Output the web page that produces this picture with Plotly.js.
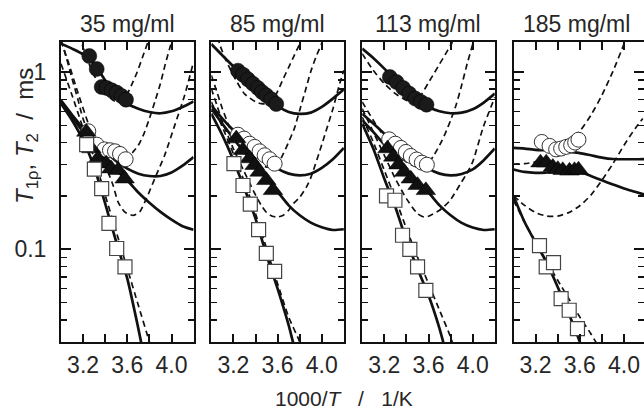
<!DOCTYPE html>
<html><head><meta charset="utf-8">
<script src="https://cdn.plot.ly/plotly-3.0.1.min.js"></script>
<style>html,body{margin:0;padding:0;background:#fff;}</style>
</head><body><div id="chart" style="width:644px;height:410px;"></div>
<script>
const panelTitles = ['35 mg/ml','85 mg/ml','113 mg/ml','185 mg/ml'];
const xTickVals = [3.2,3.6,4.0];
const xTickText = ['3.2','3.6','4.0'];
const xMinorVals = [3.4,3.8];
const yTickVals = [0.1,1];
const yTickText = ['0.1','1'];
const yMinorVals = [0.04,0.05,0.06,0.07,0.08,0.09,0.2,0.3,0.4,0.5,0.6,0.7,0.8,0.9];
const fitX = [3.0,3.1,3.2,3.3,3.4,3.5,3.6,3.7,3.8,3.9,4.0,4.1,4.2];

// ---- 35 mg/ml ----
const p1_fc_x = [3.256,3.323,3.368,3.413,3.459,3.504,3.549,3.588];
const p1_fc_y = [1.23,1.04,0.823,0.813,0.788,0.765,0.732,0.698];
const p1_oc_x = [3.247,3.323,3.392,3.443,3.489,3.534,3.585];
const p1_oc_y = [0.463,0.389,0.366,0.362,0.357,0.345,0.322];
const p1_tri_x = [3.229,3.275,3.335,3.410,3.455,3.516,3.576];
const p1_tri_y = [0.459,0.370,0.325,0.304,0.285,0.279,0.250];
const p1_sq_x = [3.232,3.302,3.368,3.434,3.504,3.579];
const p1_sq_y = [0.389,0.283,0.220,0.140,0.101,0.0795];
const p1_fitA_y = [1.445,1.354,1.258,1.114,0.898,0.755,0.663,0.621,0.595,0.585,0.600,0.635,0.683];
const p1_fitB_y = [0.692,0.574,0.483,0.412,0.357,0.314,0.285,0.267,0.259,0.259,0.271,0.296,0.331];
const p1_fitC_y = [0.671,0.557,0.459,0.383,0.325,0.279,0.245,0.209,0.183,0.1625,0.147,0.135,0.129];
const p1_fitT2_x = [3.0,3.1,3.2,3.3,3.4,3.5,3.6,3.7,3.74];
const p1_fitT2_y = [0.663,0.534,0.412,0.291,0.181,0.110,0.0683,0.0357,0.0269];
const p1_dashA_x = [3.163,3.184,3.214,3.299,3.401,3.452,3.500,3.549,3.600,3.637,3.685,3.736,3.787,3.808];
const p1_dashA_y = [1.61,1.476,1.297,0.958,0.771,0.708,0.680,0.700,0.754,0.841,0.983,1.204,1.476,1.61];
const p1_dashB_x = [3.0,3.051,3.10,3.151,3.199,3.299,3.401,3.50,3.549,3.60,3.652,3.70,3.751,3.80,3.849,3.899,3.941,4.0,4.015];
const p1_dashB_y = [1.508,1.189,0.917,0.708,0.546,0.386,0.328,0.30,0.308,0.325,0.354,0.386,0.449,0.546,0.678,0.859,1.09,1.476,1.61];
const p1_dashC_x = [3.0,3.066,3.151,3.247,3.338,3.425,3.471,3.516,3.576,3.652,3.712,3.772,3.848,3.938,4.029,4.119,4.195];
const p1_dashC_y = [1.508,1.139,0.771,0.512,0.362,0.273,0.230,0.185,0.1625,0.1555,0.1625,0.193,0.250,0.339,0.500,0.739,1.114];
const p1_dashT2_x = [3.0,3.1,3.2,3.3,3.4,3.5,3.6,3.7,3.8,3.82];
const p1_dashT2_y = [1.114,0.739,0.483,0.328,0.202,0.1253,0.0779,0.0483,0.030,0.0269];

// ---- 85 mg/ml ----
const p2_fc_x = [3.241,3.287,3.332,3.377,3.422,3.459,3.498,3.543,3.588];
const p2_fc_y = [1.017,0.966,0.909,0.859,0.812,0.771,0.739,0.701,0.660];
const p2_oc_x = [3.241,3.296,3.347,3.392,3.437,3.483,3.528,3.573];
const p2_oc_y = [0.443,0.421,0.394,0.378,0.357,0.339,0.322,0.304];
const p2_tri_x = [3.226,3.287,3.347,3.392,3.437,3.498,3.558];
const p2_tri_y = [0.421,0.362,0.325,0.298,0.273,0.245,0.215];
const p2_sq_x = [3.205,3.287,3.353,3.428,3.498,3.573];
const p2_sq_y = [0.304,0.229,0.180,0.129,0.0949,0.0751];
const p2_fitA_y = [1.438,1.241,1.076,0.949,0.834,0.732,0.643,0.595,0.580,0.590,0.635,0.708,0.798];
const p2_fitB_y = [0.649,0.546,0.469,0.412,0.357,0.318,0.285,0.267,0.261,0.267,0.288,0.322,0.373];
const p2_fitC_y = [0.621,0.511,0.421,0.354,0.298,0.250,0.211,0.177,0.1555,0.1414,0.1331,0.1285,0.1297];
const p2_fitT2_x = [3.0,3.1,3.2,3.3,3.4,3.5,3.6,3.7,3.739,3.76];
const p2_fitT2_y = [0.582,0.440,0.318,0.220,0.149,0.0925,0.060,0.0373,0.030,0.0269];
const p2_dashA_x = [3.06,3.075,3.121,3.199,3.299,3.401,3.452,3.501,3.552,3.60,3.652,3.70,3.751,3.799,3.82];
const p2_dashA_y = [1.575,1.438,1.21,0.958,0.755,0.678,0.663,0.663,0.692,0.778,0.917,1.062,1.241,1.438,1.575];
const p2_dashB_x = [3.0,3.051,3.10,3.151,3.199,3.299,3.401,3.501,3.60,3.652,3.70,3.751,3.799,3.848,3.899,3.947,3.997,4.015];
const p2_dashB_y = [0.958,0.771,0.621,0.512,0.43,0.346,0.308,0.291,0.304,0.346,0.403,0.479,0.605,0.771,1.0,1.215,1.438,1.575];
const p2_dashC_x = [3.0,3.051,3.10,3.199,3.299,3.401,3.452,3.501,3.552,3.60,3.652,3.70,3.751,3.799,3.86,3.899,4.011,4.101,4.161,4.2];
const p2_dashC_y = [0.805,0.649,0.523,0.370,0.273,0.202,0.177,0.161,0.1535,0.152,0.1555,0.166,0.1834,0.196,0.224,0.252,0.41,0.621,0.856,1.022];
const p2_dashT2_x = [3.0,3.1,3.2,3.3,3.4,3.5,3.6,3.7,3.8,3.82];
const p2_dashT2_y = [0.678,0.49,0.346,0.240,0.159,0.101,0.064,0.0415,0.030,0.0269];

// ---- 113 mg/ml ----
const p3_fc_x = [3.250,3.311,3.371,3.425,3.480,3.531,3.582];
const p3_fc_y = [0.937,0.878,0.812,0.755,0.708,0.678,0.654];
const p3_oc_x = [3.244,3.299,3.350,3.395,3.440,3.492,3.540,3.585];
const p3_oc_y = [0.417,0.394,0.373,0.354,0.336,0.321,0.308,0.300];
const p3_tri_x = [3.229,3.281,3.329,3.380,3.440,3.501,3.576];
const p3_tri_y = [0.370,0.332,0.300,0.273,0.250,0.230,0.215];
const p3_sq_x = [3.220,3.296,3.365,3.431,3.501,3.576];
const p3_sq_y = [0.200,0.189,0.120,0.100,0.0795,0.0587];
const p3_fitA_y = [1.354,1.199,1.044,0.897,0.778,0.692,0.635,0.600,0.585,0.590,0.616,0.672,0.755];
const p3_fitB_y = [0.582,0.512,0.449,0.394,0.354,0.318,0.285,0.267,0.261,0.266,0.282,0.318,0.370];
const p3_fitC_y = [0.535,0.459,0.389,0.332,0.279,0.240,0.209,0.177,0.1555,0.1408,0.1326,0.1285,0.1297];
const p3_fitT2_x = [3.0,3.1,3.2,3.3,3.4,3.5,3.6,3.7,3.733,3.755];
const p3_fitT2_y = [0.511,0.370,0.250,0.173,0.1124,0.0778,0.055,0.0357,0.030,0.0269];
const p3_dashA_x = [3.0,3.1,3.2,3.3,3.4,3.452,3.5,3.54,3.6,3.649,3.7,3.751,3.8,3.809,3.82];
const p3_dashA_y = [1.269,1.022,0.859,0.755,0.692,0.678,0.689,0.751,0.871,0.979,1.109,1.252,1.414,1.438,1.575];
const p3_dashB_x = [3.0,3.1,3.2,3.3,3.4,3.5,3.6,3.649,3.7,3.751,3.8,3.849,3.9,3.95,4.0,4.015];
const p3_dashB_y = [0.678,0.534,0.43,0.354,0.311,0.291,0.308,0.339,0.386,0.449,0.534,0.649,0.841,1.114,1.438,1.61];
const p3_dashC_x = [3.0,3.1,3.2,3.3,3.4,3.5,3.56,3.6,3.7,3.793,3.9,3.944,4.0,4.095,4.2];
const p3_dashC_y = [0.621,0.459,0.339,0.250,0.193,0.159,0.152,0.1535,0.166,0.188,0.240,0.266,0.311,0.488,0.72];
const p3_dashT2_x = [3.0,3.1,3.2,3.3,3.4,3.5,3.6,3.7,3.8,3.818,3.836];
const p3_dashT2_y = [0.557,0.403,0.279,0.193,0.131,0.0905,0.064,0.0453,0.032,0.0295,0.0269];

// ---- 185 mg/ml ----
const p4_oc_x = [3.256,3.326,3.386,3.431,3.477,3.522,3.558,3.588];
const p4_oc_y = [0.403,0.383,0.366,0.370,0.378,0.386,0.400,0.415];
const p4_tri_x = [3.244,3.296,3.356,3.401,3.446,3.507,3.552,3.588];
const p4_tri_y = [0.308,0.308,0.291,0.283,0.279,0.277,0.279,0.281];
const p4_sq_x = [3.235,3.296,3.362,3.431,3.504,3.579];
const p4_sq_y = [0.105,0.0795,0.0841,0.0527,0.0453,0.0357];
const p4_fitB_y = [0.373,0.370,0.364,0.362,0.359,0.354,0.349,0.339,0.329,0.323,0.322,0.322,0.323];
const p4_fitC_y = [0.282,0.273,0.270,0.271,0.273,0.275,0.273,0.259,0.245,0.232,0.220,0.211,0.202];
const p4_fitT2_x = [3.0,3.1,3.2,3.3,3.4,3.5,3.6,3.618];
const p4_fitT2_y = [0.20,0.1426,0.109,0.0841,0.0613,0.0434,0.030,0.0274];
const p4_dashB_x = [3.0,3.1,3.2,3.3,3.4,3.5,3.6,3.7,3.8,3.9,4.0,4.011];
const p4_dashB_y = [0.302,0.304,0.311,0.325,0.351,0.394,0.463,0.570,0.739,1.009,1.444,1.54];
const p4_dashC_x = [3.0,3.1,3.2,3.3,3.4,3.5,3.6,3.7,3.8,3.9,4.0,4.1,4.17];
const p4_dashC_y = [0.20,0.177,0.161,0.154,0.154,0.161,0.176,0.202,0.245,0.304,0.386,0.479,0.546];
const p4_dashT2_x = [3.0,3.1,3.2,3.3,3.4,3.5,3.6,3.7,3.748,3.769];
const p4_dashT2_y = [0.189,0.1426,0.110,0.0855,0.0669,0.0527,0.0415,0.0334,0.0298,0.0281];

const panels = [
  {fc:[p1_fc_x,p1_fc_y], oc:[p1_oc_x,p1_oc_y], tri:[p1_tri_x,p1_tri_y], sq:[p1_sq_x,p1_sq_y],
   solid:[[fitX,p1_fitA_y],[fitX,p1_fitB_y],[fitX,p1_fitC_y],[p1_fitT2_x,p1_fitT2_y]],
   dash:[[p1_dashA_x,p1_dashA_y],[p1_dashB_x,p1_dashB_y],[p1_dashC_x,p1_dashC_y],[p1_dashT2_x,p1_dashT2_y]]},
  {fc:[p2_fc_x,p2_fc_y], oc:[p2_oc_x,p2_oc_y], tri:[p2_tri_x,p2_tri_y], sq:[p2_sq_x,p2_sq_y],
   solid:[[fitX,p2_fitA_y],[fitX,p2_fitB_y],[fitX,p2_fitC_y],[p2_fitT2_x,p2_fitT2_y]],
   dash:[[p2_dashA_x,p2_dashA_y],[p2_dashB_x,p2_dashB_y],[p2_dashC_x,p2_dashC_y],[p2_dashT2_x,p2_dashT2_y]]},
  {fc:[p3_fc_x,p3_fc_y], oc:[p3_oc_x,p3_oc_y], tri:[p3_tri_x,p3_tri_y], sq:[p3_sq_x,p3_sq_y],
   solid:[[fitX,p3_fitA_y],[fitX,p3_fitB_y],[fitX,p3_fitC_y],[p3_fitT2_x,p3_fitT2_y]],
   dash:[[p3_dashA_x,p3_dashA_y],[p3_dashB_x,p3_dashB_y],[p3_dashC_x,p3_dashC_y],[p3_dashT2_x,p3_dashT2_y]]},
  {fc:null, oc:[p4_oc_x,p4_oc_y], tri:[p4_tri_x,p4_tri_y], sq:[p4_sq_x,p4_sq_y],
   solid:[[fitX,p4_fitB_y],[fitX,p4_fitC_y],[p4_fitT2_x,p4_fitT2_y]],
   dash:[[p4_dashB_x,p4_dashB_y],[p4_dashC_x,p4_dashC_y],[p4_dashT2_x,p4_dashT2_y]]}
];

const W = 644, H = 410, ML = 61, MR = 0, MT = 42, MB = 68;
const plotW = W - ML - MR, plotH = H - MT - MB;
const pxPerUnit = 110.5;
const panelLeftPx = [0, 150.3, 301.2, 452.5];
const FONT = 'Liberation Sans, Arial, Helvetica, sans-serif';
const TXT = '#262626';

const traces = [];
const layout = {
  width: W, height: H, margin: {l: ML, r: MR, t: MT, b: MB},
  paper_bgcolor: '#fff', plot_bgcolor: '#fff', showlegend: false,
  font: {family: FONT, color: TXT}, annotations: []
};

panels.forEach((p, i) => {
  const n = i + 1, xa = 'x' + (n === 1 ? '' : n), ya = 'y' + (n === 1 ? '' : n);
  const left = panelLeftPx[i] / plotW;
  const right = Math.min(1, (panelLeftPx[i] + 1.2 * pxPerUnit) / plotW);
  const xmax = 3.0 + (right * plotW - panelLeftPx[i]) / pxPerUnit;
  layout['xaxis' + (n === 1 ? '' : n)] = {
    domain: [left, right], range: [3.0, xmax], anchor: ya,
    tickmode: 'array', tickvals: xTickVals, ticktext: xTickText,
    ticks: 'inside', ticklen: 8, tickwidth: 2, tickcolor: '#111',
    minor: {tickmode: 'array', tickvals: xMinorVals, ticks: 'inside', ticklen: 8, tickwidth: 2, tickcolor: '#111', showgrid: false},
    showline: true, linewidth: 2, linecolor: '#111', mirror: 'allticks',
    showgrid: false, zeroline: false, ticklabelstandoff: 1,
    tickfont: {family: FONT, size: 23, color: TXT}
  };
  layout['yaxis' + (n === 1 ? '' : n)] = {
    domain: [0, 1], type: 'log', range: [Math.log10(0.03), Math.log10(1.476)], anchor: xa,
    tickmode: 'array', tickvals: yTickVals, ticktext: yTickText, showticklabels: n === 1,
    ticks: 'inside', ticklen: 10, tickwidth: 2, tickcolor: '#111',
    minor: {tickmode: 'array', tickvals: yMinorVals, ticks: 'inside', ticklen: 6, tickwidth: 1.6, tickcolor: '#111', showgrid: false},
    showline: true, linewidth: 2, linecolor: '#111', mirror: 'allticks',
    showgrid: false, zeroline: false, ticklabelstandoff: 8,
    tickfont: {family: FONT, size: 23, color: TXT}
  };
  p.dash.forEach(d => traces.push({x: d[0], y: d[1], xaxis: xa, yaxis: ya, mode: 'lines', hoverinfo: 'skip',
    line: {color: '#111', width: 1.7, dash: '6px,4px', shape: 'spline', smoothing: 0.6}}));
  p.solid.forEach(d => traces.push({x: d[0], y: d[1], xaxis: xa, yaxis: ya, mode: 'lines', hoverinfo: 'skip',
    line: {color: '#111', width: 2.7, shape: 'spline', smoothing: 0.6}}));
  if (p.fc) traces.push({x: p.fc[0], y: p.fc[1], xaxis: xa, yaxis: ya, mode: 'markers',
    marker: {symbol: 'circle', size: 15, color: '#1a1a1a', line: {color: '#000', width: 0.5}}});
  traces.push({x: p.oc[0], y: p.oc[1], xaxis: xa, yaxis: ya, mode: 'markers',
    marker: {symbol: 'circle', size: 15, color: '#fff', line: {color: '#333', width: 1}}});
  traces.push({x: p.tri[0], y: p.tri[1], xaxis: xa, yaxis: ya, mode: 'markers',
    marker: {symbol: 'triangle-up', size: 17, color: '#111', line: {color: '#000', width: 0.5}}});
  traces.push({x: p.sq[0], y: p.sq[1], xaxis: xa, yaxis: ya, mode: 'markers',
    marker: {symbol: 'square', size: 14, color: '#fff', line: {color: '#444', width: 1.2}}});
  layout.annotations.push({text: panelTitles[i], xref: 'paper', yref: 'paper',
    x: (left + right) / 2 + (i === 3 ? -0.004 : 0), y: 1 + (MT - 24) / plotH, xanchor: 'center', yanchor: 'middle',
    showarrow: false, font: {family: FONT, size: 23, color: TXT}});
});

layout.annotations.push({text: '<i>T</i><sub>1ρ</sub>, <i>T</i><sub>2</sub>\u00a0 /\u00a0 ms', xref: 'paper', yref: 'paper',
  x: (26 - ML) / plotW, y: 1 - (136 - MT) / plotH, xanchor: 'center', yanchor: 'middle', textangle: -90,
  showarrow: false, font: {family: FONT, size: 24, color: TXT}});
layout.annotations.push({text: '1000/<i>T</i>\u00a0\u00a0 /\u00a0\u00a0 1/K', xref: 'paper', yref: 'paper',
  x: (344 - ML) / plotW, y: -(398 - (H - MB)) / plotH, xanchor: 'center', yanchor: 'middle',
  showarrow: false, font: {family: FONT, size: 21, color: TXT}});

Plotly.newPlot('chart', traces, layout, {displayModeBar: false, staticPlot: true});
</script>
</body></html>
